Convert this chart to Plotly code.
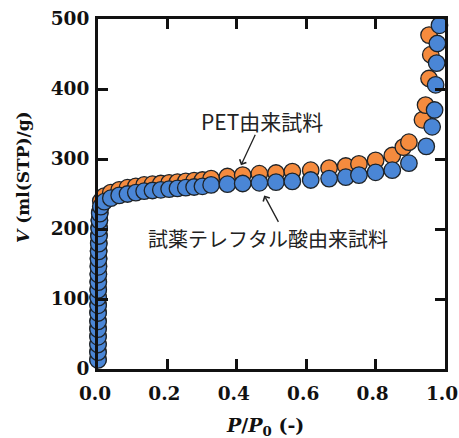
import plotly.graph_objects as go

# Nitrogen adsorption isotherms, relative pressure P/P0 vs adsorbed volume V
pet_p = [0.00002, 0.00004, 0.00007, 0.0001, 0.00015, 0.0002, 0.0003, 0.0004,
         0.0005, 0.0006, 0.0008, 0.001, 0.0012, 0.0015, 0.0018, 0.0022, 0.0027,
         0.0033, 0.004, 0.005, 0.008, 0.018, 0.037, 0.061, 0.085, 0.109, 0.133,
         0.157, 0.181, 0.205, 0.229, 0.253, 0.277, 0.301, 0.326, 0.373, 0.417,
         0.465, 0.513, 0.56, 0.613, 0.666, 0.714, 0.752, 0.80, 0.848, 0.88,
         0.896, 0.935, 0.944, 0.954, 0.959, 0.954]
pet_v = [14, 25, 36, 47, 58, 69, 81, 92, 103, 114, 125, 136, 147, 158, 169,
         180, 191, 202, 213, 224, 240, 247, 252, 256, 259, 261, 263, 264, 265,
         266, 267, 268, 269, 270, 272, 275, 277, 279, 280, 282, 284, 287, 290,
         293, 298, 305, 317, 324, 356, 377, 415, 449, 477]

ref_p = [0.00002, 0.00004, 0.00007, 0.0001, 0.00015, 0.0002, 0.0003, 0.0004,
         0.0005, 0.0006, 0.0008, 0.001, 0.0012, 0.0015, 0.0018, 0.0022, 0.0027,
         0.0033, 0.004, 0.005, 0.008, 0.018, 0.037, 0.061, 0.085, 0.109, 0.133,
         0.157, 0.181, 0.205, 0.229, 0.253, 0.277, 0.301, 0.326, 0.373, 0.417,
         0.465, 0.513, 0.56, 0.613, 0.666, 0.714, 0.752, 0.80, 0.848, 0.896,
         0.946, 0.963, 0.970, 0.973, 0.976, 0.978, 0.984]
ref_v = [13, 24, 35, 46, 57, 68, 80, 91, 102, 113, 124, 135, 146, 157, 168,
         179, 190, 201, 212, 222, 232, 239, 244, 248, 250, 252, 254, 255, 256,
         257, 258, 259, 260, 261, 263, 264, 265, 266, 267, 268, 270, 272, 274,
         277, 281, 284, 294, 318, 346, 370, 406, 437, 465, 491]

x_ticks = [0.0, 0.2, 0.4, 0.6, 0.8, 1.0]
x_tick_text = ["0.0", "0.2", "0.4", "0.6", "0.8", "1.0"]
y_ticks = [0, 100, 200, 300, 400, 500]
y_tick_text = ["0", "100", "200", "300", "400", "500"]

ORANGE = "#F58B3E"
BLUE = "#4A86D6"
EDGE = "#1E2328"
SERIF = "DejaVu Serif"
CJK = "Noto Sans CJK JP"

fig = go.Figure()
fig.add_trace(go.Scatter(
    x=pet_p, y=pet_v, mode="markers", name="PET由来試料",
    marker=dict(size=16.5, color=ORANGE, line=dict(color=EDGE, width=1.3)),
    cliponaxis=False,
))
fig.add_trace(go.Scatter(
    x=ref_p, y=ref_v, mode="markers", name="試薬テレフタル酸由来試料",
    marker=dict(size=16.5, color=BLUE, line=dict(color=EDGE, width=1.3)),
    cliponaxis=False,
))

axis_common = dict(
    showline=True, linecolor="#111111", linewidth=3, mirror="ticks",
    ticks="inside", ticklen=10, tickwidth=3, tickcolor="#111111",
    showgrid=False, zeroline=False, ticklabeloverflow="allow",
    automargin=False,
    tickfont=dict(family=SERIF, size=18.5, color="#111111", weight="bold"),
)

fig.update_xaxes(range=[0, 1], tickvals=x_ticks, ticktext=x_tick_text,
                 ticklabelstandoff=6, ticklabelshift=-3, **axis_common)
fig.update_yaxes(range=[0, 500], tickvals=y_ticks, ticktext=y_tick_text,
                 ticklabelstandoff=2, **axis_common)

annotations = [
    # axis titles
    dict(text="<i>P</i>/<i>P</i><sub>0</sub> (-)", xref="paper", yref="paper",
         x=0.48, y=-0.165, xanchor="center", yanchor="middle", showarrow=False,
         font=dict(family=SERIF, size=19, color="#111111", weight="bold")),
    dict(text="<i>V</i> (ml(STP)/g)", xref="paper", yref="paper",
         x=-0.215, y=0.55, xanchor="center", yanchor="middle", showarrow=False,
         textangle=-90,
         font=dict(family=SERIF, size=17, color="#111111", weight="bold")),
    # series labels
    dict(text="PET由来試料", x=0.474, y=354, xanchor="center", yanchor="middle",
         showarrow=False, font=dict(family=CJK, size=21, color="#222222")),
    dict(text="試薬テレフタル酸由来試料", x=0.489, y=187, xanchor="center",
         yanchor="middle", showarrow=False,
         font=dict(family=CJK, size=20, color="#222222")),
    # pointer arrows
    dict(text="", x=0.412, y=291, ax=15, ay=-32, axref="pixel", ayref="pixel",
         showarrow=True, arrowhead=4, arrowsize=1.1, arrowwidth=1.3,
         arrowcolor="#222222"),
    dict(text="", x=0.479, y=248, ax=15, ay=28, axref="pixel", ayref="pixel",
         showarrow=True, arrowhead=4, arrowsize=1.1, arrowwidth=1.3,
         arrowcolor="#222222"),
]

fig.update_layout(
    width=459, height=438,
    margin=dict(l=98, r=14, t=19, b=69),
    paper_bgcolor="white", plot_bgcolor="white",
    showlegend=False,
    annotations=annotations,
)

fig.write_html("out.html")
